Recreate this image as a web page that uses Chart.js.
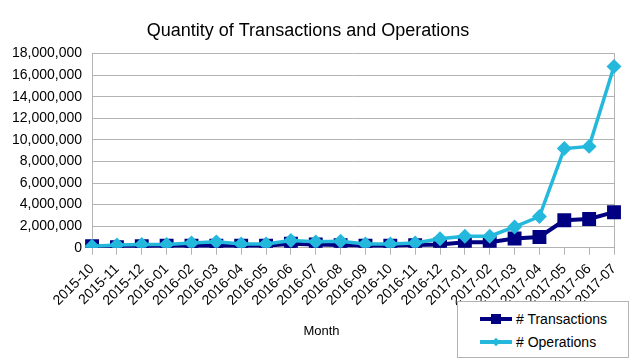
<!DOCTYPE html>
<html>
<head>
<meta charset="utf-8">
<script src="https://cdn.jsdelivr.net/npm/chart.js@4"></script>
<style>
  body { margin: 0; background: #fff; }
  #wrap { position: relative; width: 643px; height: 361px; font-family: "Liberation Sans", Arial, sans-serif; }
  #month { position: absolute; left: 0; width: 643px; top: 323px; text-align: center; font-size: 13px; color: #000; }
  #legend { position: absolute; left: 457px; top: 301px; width: 172px; height: 57px; border: 1px solid #b3b3b3; background: #fff; box-sizing: border-box; }
  .row { position: absolute; left: 22px; height: 20px; font-size: 14px; color: #000; white-space: nowrap; }
  .row .ln { position: absolute; left: 0; top: 8px; width: 32px; height: 4px; }
  .row .mk { position: absolute; }
  .row span { position: absolute; left: 36px; top: 2px; }
</style>
</head>
<body>
<div id="wrap">
  <canvas id="myChart" width="643" height="361"></canvas>
  <div id="month">Month</div>
  <div id="legend"></div>
</div>
<script>
// ---------- data
const months = ["2015-10", "2015-11", "2015-12", "2016-01", "2016-02", "2016-03", "2016-04",
  "2016-05", "2016-06", "2016-07", "2016-08", "2016-09", "2016-10", "2016-11", "2016-12",
  "2017-01", "2017-02", "2017-03", "2017-04", "2017-05", "2017-06", "2017-07"];
const transactions = [150000, 60000, 150000, 200000, 200000, 200000, 200000, 200000, 370000, 300000,
  250000, 200000, 200000, 250000, 300000, 520000, 520000, 860000, 1000000, 2550000, 2670000, 3300000];
const operations = [150000, 250000, 300000, 300000, 450000, 550000, 350000, 350000, 670000, 550000,
  600000, 350000, 350000, 450000, 830000, 1070000, 1070000, 1930000, 2900000, 9200000, 9400000, 16800000];
const yTicks = [0, 2000000, 4000000, 6000000, 8000000, 10000000, 12000000, 14000000, 16000000, 18000000];

const navy = "#000080";
const sky = "#23b8dc";
const fontName = "'Liberation Sans', Arial, sans-serif";

//----------- legend (html so it can sit outside the plot like the original)
function buildlegend() {
  let box = document.getElementById("legend");
  let items = [
    { text: "# Transactions", color: navy, mark: "sq" },
    { text: "# Operations", color: sky, mark: "dm" },
  ];
  items.forEach((it, i) => {
    let row = document.createElement("div");
    row.className = "row";
    row.style.top = (7 + i * 23) + "px";
    let ln = document.createElement("div");
    ln.className = "ln";
    ln.style.background = it.color;
    let mk = document.createElement("div");
    mk.className = "mk";
    mk.style.background = it.color;
    if (it.mark == "sq") {
      mk.style.left = "11px"; mk.style.top = "5px"; mk.style.width = "10px"; mk.style.height = "10px";
    } else {
      mk.style.left = "13px"; mk.style.top = "7px"; mk.style.width = "6px"; mk.style.height = "6px";
      mk.style.transform = "rotate(45deg)";
    }
    let sp = document.createElement("span");
    sp.textContent = it.text;
    row.appendChild(ln);
    row.appendChild(mk);
    row.appendChild(sp);
    box.appendChild(row);
  });
}

//----------- chart
function createchart() {
  Chart.defaults.font.family = fontName;
  Chart.defaults.color = "#000";
  const ctx = document.getElementById("myChart");
  new Chart(ctx, {
    type: "line",
    data: {
      labels: months,
      datasets: [
        {
          label: "# Operations",
          data: operations,
          borderColor: sky,
          backgroundColor: sky,
          borderWidth: 3.5,
          pointStyle: "rectRot",
          pointRadius: 5,
          pointHoverRadius: 5,
          tension: 0,
          order: 1,
        },
        {
          label: "# Transactions",
          data: transactions,
          borderColor: navy,
          backgroundColor: navy,
          borderWidth: 4,
          pointStyle: "rect",
          pointRadius: 7,
          pointHoverRadius: 7,
          tension: 0,
          order: 2,
        },
      ],
    },
    options: {
      responsive: false,
      animation: false,
      events: [],
      layout: { padding: { left: 2, right: 29, bottom: 46, top: 0 } },
      plugins: {
        legend: { display: false },
        tooltip: { enabled: false },
        title: {
          display: true,
          text: "Quantity of Transactions and Operations",
          font: { size: 18, weight: "normal" },
          color: "#000",
          padding: { top: 20, bottom: 12 },
        },
      },
      scales: {
        x: {
          offset: false,
          grid: { drawOnChartArea: false, drawTicks: true, tickLength: 7, color: "#b3b3b3" },
          border: { color: "#b3b3b3" },
          ticks: { maxRotation: 45, minRotation: 45, autoSkip: false, font: { size: 14 }, padding: 6 },
        },
        y: {
          min: 0,
          max: 18000000,
          afterBuildTicks: (axis) => { axis.ticks = yTicks.map((v) => ({ value: v })); },
          grid: { color: "#b3b3b3", drawTicks: false },
          border: { color: "#b3b3b3" },
          ticks: {
            font: { size: 14 },
            padding: 10,
            callback: (v) => v.toLocaleString("en-US"),
          },
        },
        y2: {
          position: "right",
          min: 0,
          max: 18000000,
          grid: { drawOnChartArea: false, drawTicks: false },
          border: { color: "#b3b3b3" },
          ticks: { display: false },
        },
      },
    },
  });
}

buildlegend();
createchart();
</script>
</body>
</html>
